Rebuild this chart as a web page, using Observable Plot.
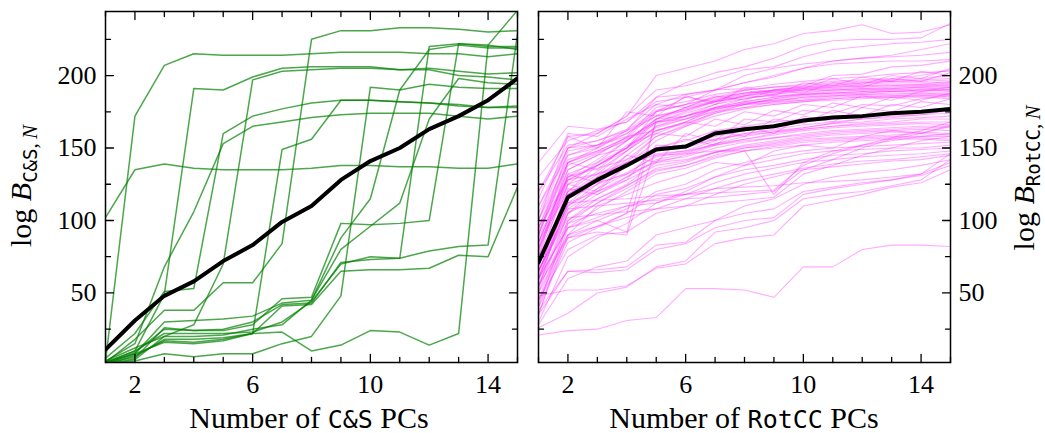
<!DOCTYPE html>
<html><head><meta charset="utf-8">
<script src="https://cdn.jsdelivr.net/npm/d3@7"></script>
<script src="https://cdn.jsdelivr.net/npm/@observablehq/plot@0.6"></script>
<style>
body{margin:0;background:#fff;}
#wrap{position:relative;width:1045px;height:433px;overflow:hidden;}
#wrap svg{position:absolute;top:0;}
</style></head><body><div id="wrap"></div>
<script>
// ---------- data ----------
const nPCs = [1,2,3,4,5,6,7,8,9,10,11,12,13,14,15];
const xMajor = [2,6,10,14];
const xMinor = [1,3,4,5,7,8,9,11,12,13,15];
const yMajor = [50,100,150,200];
const yMinor = [25,75,125,175,225];

const csMean = [11,31,48,58,72,83,99,110,128,141,150,163,172,183,198];
const csSeries = [
  [3,172,207,215,214,214,214,215,216,216,216,215,215,213,215],
  [102,135,139,136,135,135,135,136,138,138,137,137,136,136,139],
  [2,18,38,38,57,57,84,225,231,231,233,233,232,230,231],
  [2,10,49,191,190,199,205,206,206,206,204,205,203,201,202],
  [5,22,51,53,160,172,177,181,183,183,182,181,179,178,179],
  [3,12,20,28,70,197,203,204,205,205,204,204,200,199,197],
  [3,15,68,106,153,165,168,171,173,174,174,174,172,170,172],
  [1,6,18,18,19,22,149,156,183,183,182,181,180,178,178],
  [0,5,26,24,24,28,46,47,98,97,98,100,222,221,218],
  [1,8,30,31,32,34,43,45,88,115,190,218,221,219,219],
  [2,10,22,22,22,23,30,44,70,75,74,79,82,83,229],
  [1,9,25,24,25,30,42,43,71,73,74,220,222,220,220],
  [0,7,17,16,18,22,41,42,65,66,66,67,76,75,123],
  [0,3,8,6,8,8,15,20,48,192,190,194,192,191,191],
  [2,8,16,15,17,22,23,10,14,24,23,14,22,221,245],
  [0,4,20,20,21,25,28,45,80,96,112,170,198,195,194]
];

const rotMean = [71,116,128,138,149,151,160,163,165,169,171,172,174,175,177];
const rotSeries = [
  [21,24,25,31,33,53,53,52,47,68,68,80,83,83,82],
  [26,36,50,54,68,72,92,95,100,115,118,120,124,128,142],
  [48,52,52,55,67,70,84,88,90,110,114,118,123,126,135],
  [35,65,66,68,83,85,100,110,115,125,130,133,135,138,142],
  [38,65,64,66,80,84,95,100,102,118,122,125,128,132,140],
  [28,60,68,72,90,95,100,105,108,120,123,126,128,131,138],
  [42,98,105,110,115,118,122,123,124,126,127,128,130,132,146],
  [50,90,100,108,120,125,135,140,145,148,150,151,152,153,154],
  [40,85,95,105,118,122,130,138,142,146,148,149,150,150,152],
  [60,95,102,110,112,120,130,135,138,142,145,146,148,149,150],
  [30,75,88,98,112,118,126,132,136,140,142,144,145,146,148],
  [55,88,96,102,108,115,122,128,132,136,139,141,142,144,146],
  [45,80,90,92,105,110,118,125,130,135,137,139,141,142,145],
  [70,118,130,140,145,146,148,148,118,140,148,152,155,158,160],
  [60,95,100,92,170,172,178,182,185,188,190,191,192,193,195],
  [55,90,96,105,168,170,175,178,182,185,187,188,189,190,190],
  [45,88,92,90,150,155,162,165,168,170,172,173,174,175,176],
  [65,108,110,112,114,115,116,118,120,135,142,150,156,160,165],
  [58,112,114,115,117,118,119,120,121,138,146,152,157,162,168],
  [66,102,104,106,108,110,112,114,116,132,138,145,150,155,158],
  [110,150,160,172,200,205,210,218,222,229,231,235,229,230,235],
  [95,140,150,162,185,195,202,206,212,220,224,225,225,226,236],
  [120,158,160,172,190,193,198,204,206,213,218,220,222,223,225],
  [105,150,155,163,180,187,190,195,199,205,210,212,213,214,216],
  [90,140,148,157,175,180,190,195,200,205,208,209,210,210,211],
  [80,135,145,150,170,178,183,188,190,193,200,201,206,207,210],
  [85,130,138,150,175,185,190,200,205,208,210,212,214,218,222],
  [75,125,140,155,170,178,185,190,192,193,195,196,197,198,200],
  [85,135,145,158,178,182,187,190,192,194,196,197,198,200,204],
  [70,120,138,150,168,175,182,186,190,192,194,195,196,197,198],
  [95,145,150,160,175,180,184,188,190,192,193,195,196,196,197],
  [60,118,132,148,165,172,180,186,189,191,193,194,195,195,195],
  [100,150,152,160,172,176,183,187,190,191,192,193,194,194,196],
  [80,130,142,155,170,176,182,186,188,190,192,193,193,194,193],
  [65,115,130,145,160,168,178,184,187,190,191,192,193,193,192],
  [110,145,152,162,176,180,185,188,189,190,190,191,191,192,194],
  [90,138,146,156,168,174,180,184,187,189,190,190,191,192,190],
  [72,110,125,140,158,166,175,180,184,187,189,190,190,191,192],
  [55,105,122,138,155,165,174,180,184,186,188,189,190,190,189],
  [85,132,140,150,165,170,178,182,185,187,188,189,189,190,191],
  [120,152,155,162,172,177,182,185,186,187,188,188,189,189,190],
  [68,120,134,148,162,168,176,181,183,185,186,187,188,188,187],
  [78,128,138,150,164,170,177,181,183,184,186,187,187,188,188],
  [92,140,147,155,167,172,178,180,182,183,185,186,186,187,186],
  [60,112,128,142,158,165,172,177,180,182,184,185,186,186,185],
  [100,142,148,157,168,172,177,180,181,183,184,185,185,186,187],
  [82,128,138,148,162,167,174,178,180,182,183,184,185,185,184],
  [70,118,128,138,150,152,158,162,165,168,170,172,174,175,178],
  [65,110,122,132,145,148,155,160,163,166,168,170,172,173,176],
  [80,125,132,140,148,150,156,160,162,164,167,170,171,173,174],
  [50,105,118,130,142,146,153,158,161,164,167,168,170,171,172],
  [88,130,136,142,150,152,156,159,161,163,165,167,168,170,170],
  [45,100,115,125,140,145,152,156,160,163,165,166,167,168,168],
  [75,115,125,133,144,147,153,156,159,162,164,165,166,167,166],
  [60,108,120,130,141,144,150,154,157,160,162,163,164,165,165],
  [95,128,132,138,146,148,152,155,157,159,161,162,163,164,164],
  [40,98,112,124,136,140,147,152,155,158,160,161,162,163,162],
  [70,112,120,128,138,141,147,151,154,157,159,160,161,161,160],
  [55,100,112,122,134,138,145,150,153,156,157,158,159,160,159],
  [85,120,126,132,140,142,147,150,152,155,156,157,158,158,158],
  [35,95,108,120,132,136,143,148,151,154,155,156,157,157,156],
  [65,105,115,124,135,138,144,148,150,152,154,155,156,156,155],
  [115,160,158,170,180,178,186,183,190,188,195,192,198,196,202],
  [130,155,162,168,182,185,182,190,186,195,193,199,196,203,200],
  [100,158,150,175,172,186,180,192,188,191,198,194,200,198,205],
  [75,140,135,152,160,158,170,166,176,173,181,178,185,183,188],
  [62,125,120,138,150,156,152,165,160,172,168,178,175,182,180],
  [140,165,163,168,185,187,190,191,194,196,198,199,201,202,203],
  [52,122,118,128,152,150,162,158,170,167,176,172,180,178,184],
  [35,90,110,118,126,132,140,138,148,152,150,158,162,160,166],
  [90,148,152,158,162,168,165,175,172,180,178,186,183,189,192],
  [68,132,126,145,140,160,155,170,168,176,174,180,179,184,186]
];

// ---------- helpers ----------
const yDomain = [2, 244.2];
const tickShape = {draw(ctx, l) { ctx.moveTo(0, 0); ctx.lineTo(0, -l); }};
function edgeTicks(values, dim, len) {
  const c = {length: len, anchor: "start", shape: tickShape, stroke: "black", strokeWidth: 1.3};
  if (dim === "x") return [
    Plot.vector(values, {...c, x: d => d, frameAnchor: "bottom", rotate: 0}),
    Plot.vector(values, {...c, x: d => d, frameAnchor: "top", rotate: 180})
  ];
  return [
    Plot.vector(values, {...c, y: d => d, frameAnchor: "left", rotate: 90}),
    Plot.vector(values, {...c, y: d => d, frameAnchor: "right", rotate: -90})
  ];
}

function panel({series, mean, color, opacity, lineWidth, width, marginLeft, marginRight, yAnchor}) {
  const rows = series.flatMap((s, i) => s.map((v, j) => ({run: i, n: nPCs[j], v})));
  const meanRows = mean.map((v, j) => ({n: nPCs[j], v}));
  return Plot.plot({
    width, height: 433, marginTop: 11, marginBottom: 71, marginLeft, marginRight,
    x: {domain: [1, 15], axis: null},
    y: {domain: yDomain, axis: null},
    style: {fontFamily: "'Liberation Serif', serif", fontSize: "26px", color: "black", background: "transparent"},
    marks: [
      Plot.line(rows, {x: "n", y: "v", z: "run", stroke: color, strokeOpacity: opacity, strokeWidth: lineWidth, clip: true}),
      Plot.line(meanRows, {x: "n", y: "v", stroke: "black", strokeWidth: 4, clip: true}),
      Plot.frame({stroke: "black", strokeWidth: 1.5}),
      ...edgeTicks(xMajor, "x", 8),
      ...edgeTicks(xMinor, "x", 5),
      ...edgeTicks(yMajor, "y", 8),
      ...edgeTicks(yMinor, "y", 5),
      Plot.axisX(xMajor, {anchor: "bottom", tickSize: 0, tickPadding: 12, label: null, fontSize: 26}),
      Plot.axisY(yMajor, {anchor: yAnchor, tickSize: 0, tickPadding: yAnchor === "left" ? 9 : 8, label: null, fontSize: 26})
    ]
  });
}

function addXLabel(svg, cx, code) {
  const t = d3.select(svg).append("text")
    .attr("x", cx).attr("y", 428).attr("text-anchor", "middle")
    .attr("font-family", "'Liberation Serif', serif").attr("font-size", 30).attr("fill", "black");
  t.append("tspan").text("Number of ");
  t.append("tspan").attr("font-family", "'DejaVu Sans Mono', monospace").attr("font-size", 25).text(code);
  t.append("tspan").text(" PCs");
}
function addYLabel(svg, x, cy, code) {
  const t = d3.select(svg).append("text")
    .attr("transform", `translate(${x},${cy}) rotate(-90)`).attr("text-anchor", "middle")
    .attr("font-family", "'Liberation Serif', serif").attr("font-size", 30).attr("fill", "black");
  t.append("tspan").text("log ");
  t.append("tspan").attr("font-style", "italic").text("B");
  t.append("tspan").attr("dy", 6).attr("font-family", "'DejaVu Sans Mono', monospace").attr("font-size", 19).text(code);
  t.append("tspan").attr("font-size", 21).text(",\u2009");
  t.append("tspan").attr("font-style", "italic").attr("font-size", 21).text("N");
}

// ---------- render ----------
const wrap = document.getElementById("wrap");
const left = panel({series: csSeries, mean: csMean, color: "green", opacity: 0.7, lineWidth: 1.5, width: 527, marginLeft: 105, marginRight: 10, yAnchor: "left"});
left.style.left = "0px";
addXLabel(left, 309, "C&S");
addYLabel(left, 31, 186, "C&S");
wrap.appendChild(left);

const right = panel({series: rotSeries, mean: rotMean, color: "#ff33ff", opacity: 0.4, lineWidth: 1.1, width: 525, marginLeft: 18, marginRight: 95, yAnchor: "right"});
right.style.left = "520px";
addXLabel(right, 224, "RotCC");
addYLabel(right, 514, 178, "RotCC");
wrap.appendChild(right);
</script></body></html>
